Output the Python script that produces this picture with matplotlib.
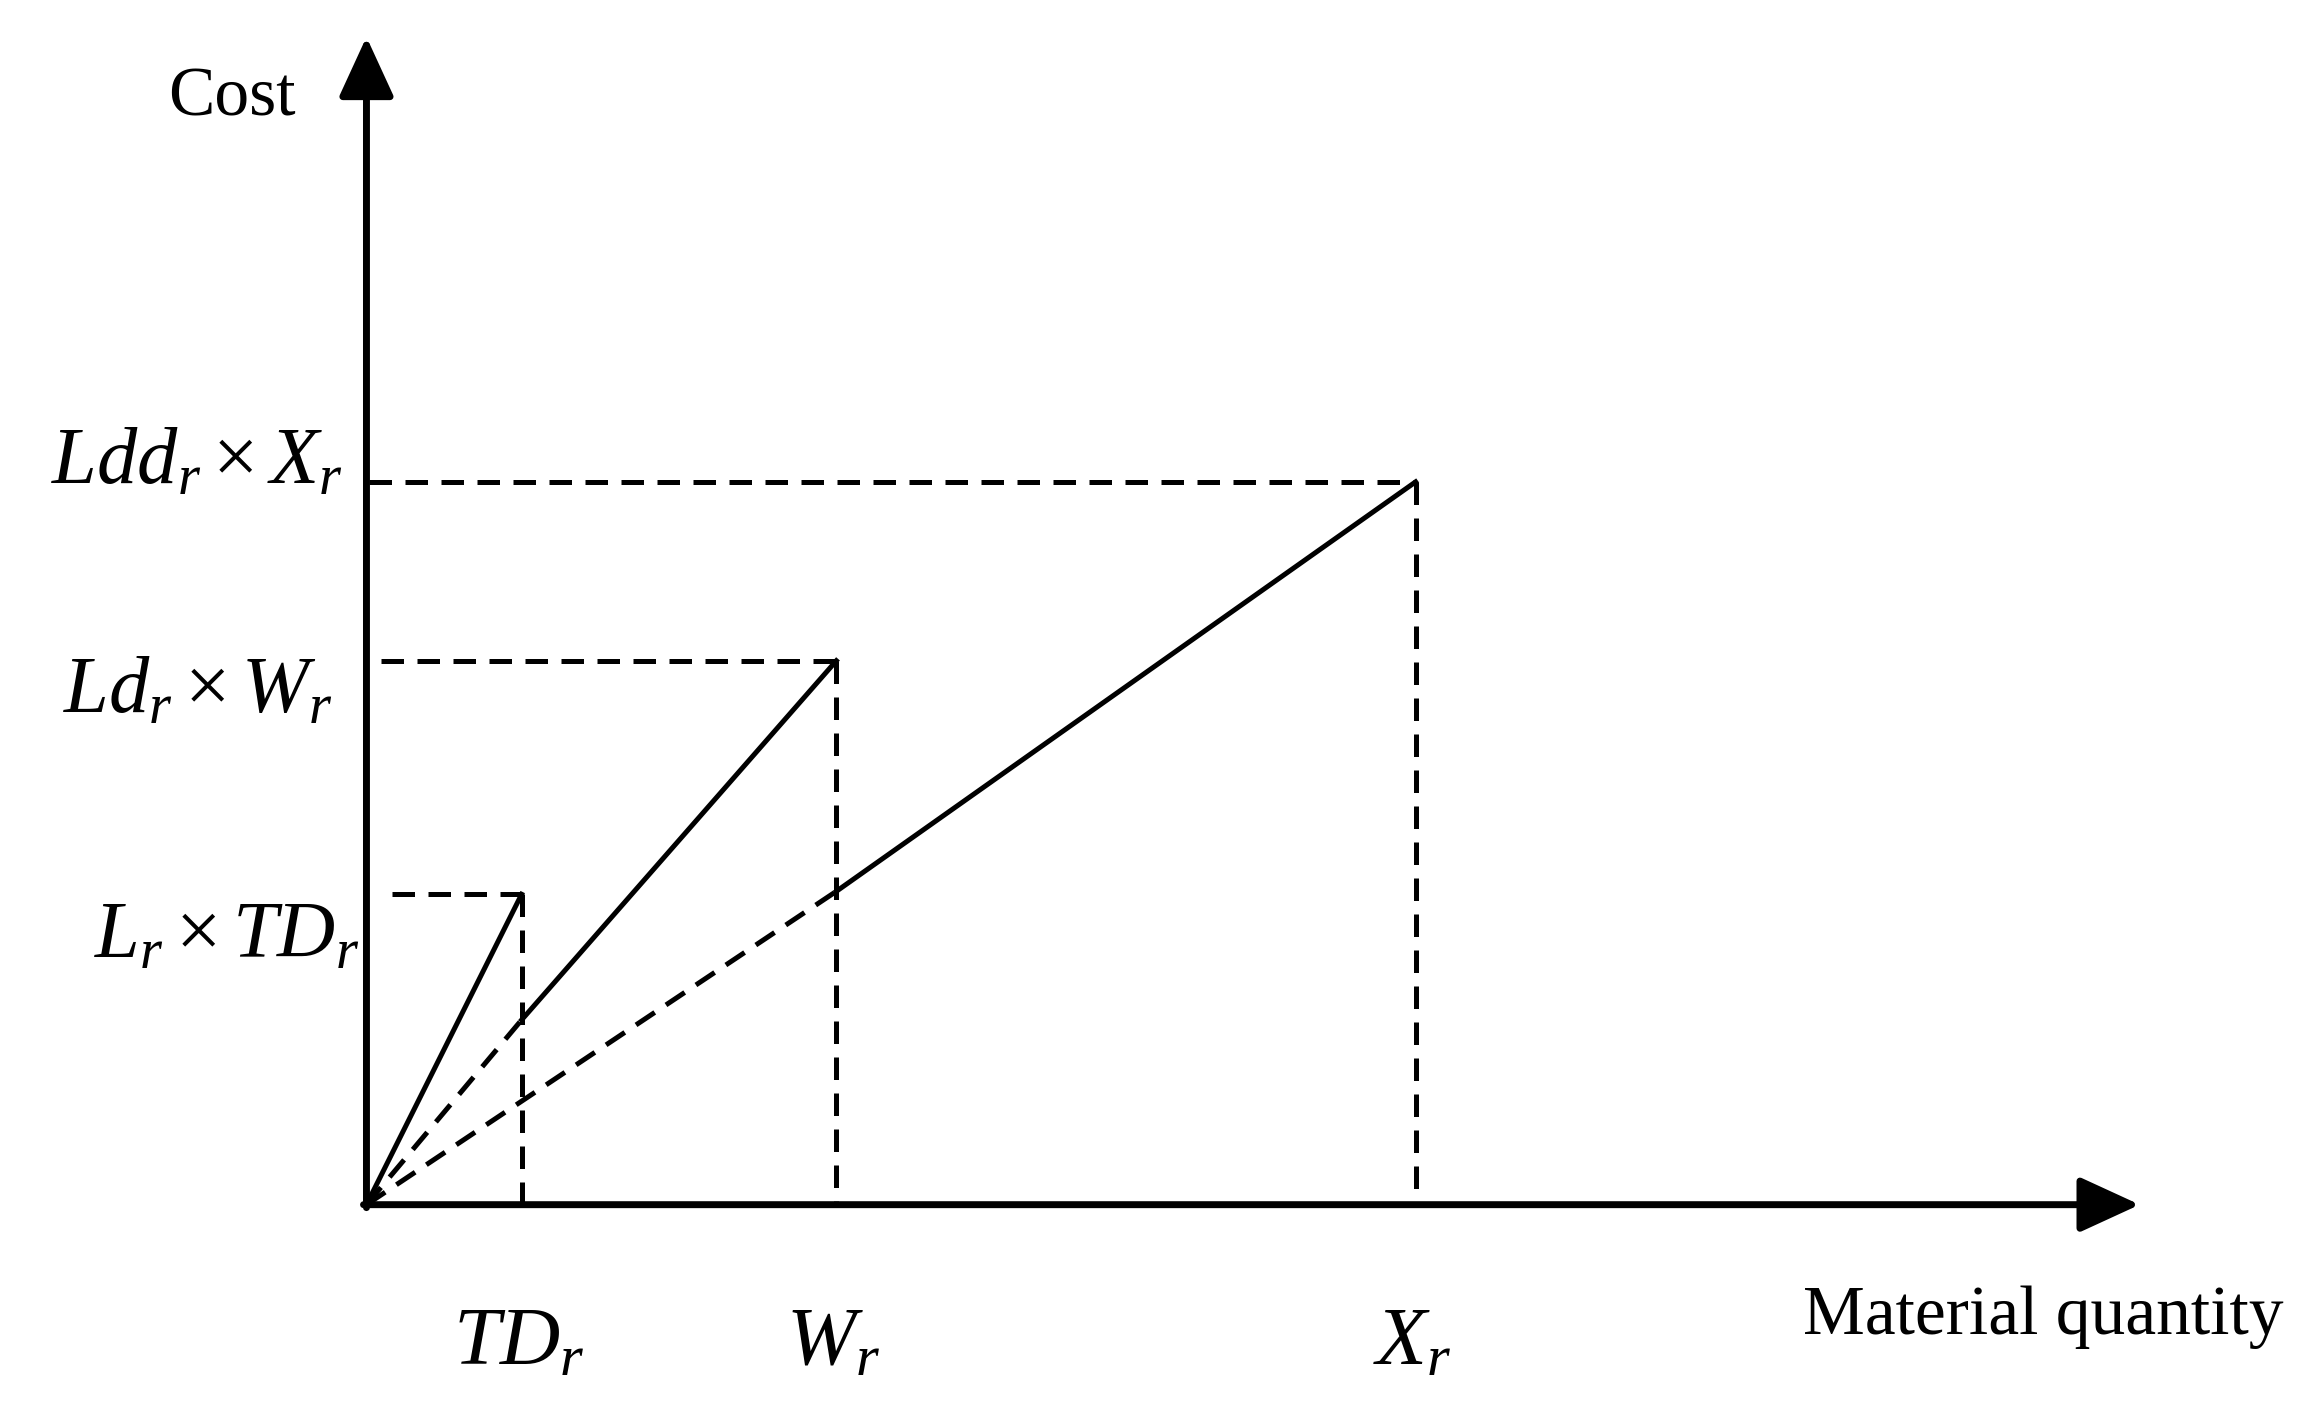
import matplotlib.pyplot as plt

plt.rcParams['mathtext.fontset'] = 'custom'
plt.rcParams['mathtext.rm'] = 'Liberation Serif'
plt.rcParams['mathtext.it'] = 'Liberation Serif:italic'
plt.rcParams['font.family'] = ['Liberation Serif', 'DejaVu Serif']

# break points on the quantity axis and the matching cost levels
quantity = [105, 318, 710]
quantity_labels = [r'$TD_r$', r'$W_r$', r'$X_r$']
cost = [210, 368, 489]
cost_labels = [r'$L_r\times TD_r$', r'$Ld_r\times W_r$', r'$Ldd_r\times X_r$']
# cost of the next tariff read at the previous break point
line2_at_td = 125
line3_at_w = 212

x_end = 1200
y_end = 790

fig = plt.figure(figsize=(23.17, 14.19), dpi=100)
ax = fig.add_axes([0, 0, 1, 1])
ax.set_xlim(-248, 1320)
ax.set_ylim(-145, 815)
ax.axis('off')

lw = 3.6
dash = (0, (4.5, 2.7))

# axes with arrow heads
arrow = dict(arrowstyle='-|>,head_length=37,head_width=17', mutation_scale=1,
             lw=5, color='k', shrinkA=0, shrinkB=0)
ax.annotate('', xy=(0, y_end), xytext=(0, -2), arrowprops=arrow)
ax.annotate('', xy=(x_end, 0), xytext=(-2, 0), arrowprops=arrow)

td, w, x = quantity
c1, c2, c3 = cost

# solid cost lines
ax.plot([0, td], [0, c1], color='k', lw=lw)
ax.plot([td, w], [line2_at_td, c2], color='k', lw=lw)
ax.plot([w, x], [line3_at_w, c3], color='k', lw=lw)

# dashed extensions back to origin
ax.plot([0, td], [0, line2_at_td], color='k', lw=lw, linestyle=dash)
ax.plot([0, w], [0, line3_at_w], color='k', lw=lw, linestyle=dash)

# guide lines
starts = [17, 10, 2]
for q, c, s in zip(quantity, cost, starts):
    ax.plot([s, q], [c, c], color='k', lw=lw, linestyle=dash)
    ax.plot([q, q], [c, 0], color='k', lw=lw, linestyle=dash)

# labels
for q, lab in zip(quantity, quantity_labels):
    ax.text(q - 2, -95, lab, fontsize=60, ha='center', va='center')
label_dx = [-5, -23, -16]
label_dy = [-30, -22, 12]
for c, lab, dx, dy in zip(cost, cost_labels, label_dx, label_dy):
    ax.text(dx, c + dy, lab, fontsize=58, ha='right', va='center')

ax.text(-48, 748, 'Cost', fontsize=50, ha='right', va='center')
ax.text(1297, -76, 'Material quantity', fontsize=50, ha='right', va='center')

fig.savefig('out.png', dpi=100)
